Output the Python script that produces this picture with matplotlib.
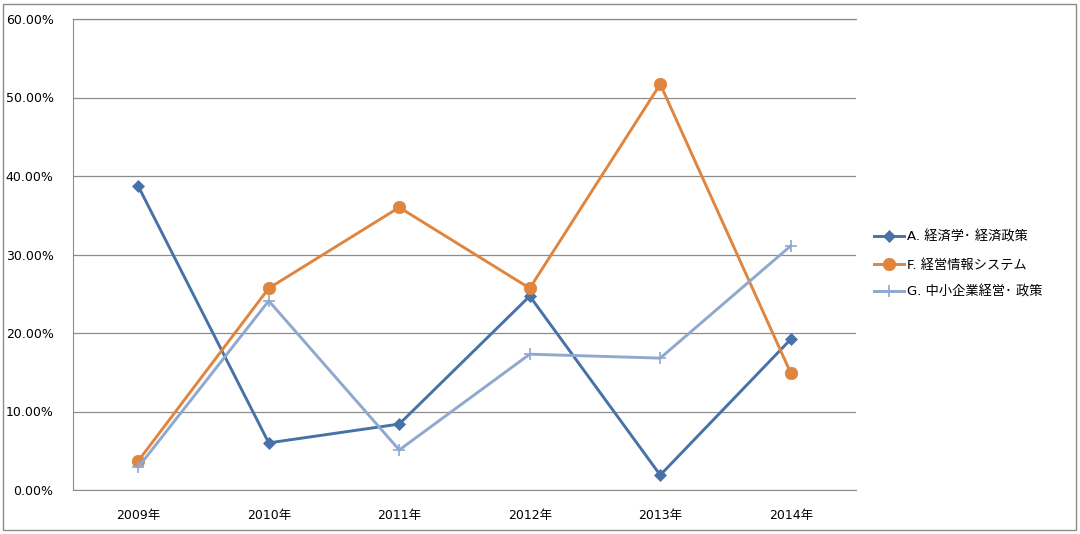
import matplotlib
matplotlib.use("Agg")
import matplotlib.pyplot as plt
from matplotlib.patches import Rectangle
from matplotlib.ticker import FuncFormatter

plt.rcParams['font.family'] = ['DejaVu Sans', 'Noto Sans CJK JP']

years = ["2009年", "2010年", "2011年", "2012年", "2013年", "2014年"]
series_names = ["A. 経済学･ 経済政策", "F. 経営情報システム", "G. 中小企業経営･ 政策"]
a_vals = [0.387, 0.060, 0.084, 0.247, 0.019, 0.192]
f_vals = [0.037, 0.257, 0.360, 0.257, 0.517, 0.149]
g_vals = [0.029, 0.241, 0.051, 0.173, 0.168, 0.311]

colors = ["#4672A8", "#E0853E", "#8FA8CF"]
markers = ["D", "o", "+"]
msizes = [6, 9, 9]

fig = plt.figure(figsize=(10.8, 5.34), dpi=100)
ax = fig.add_axes([73/1080, 1-490/534, (856-73)/1080, (490-19)/534])

x = list(range(len(years)))
for vals, name, c, m, ms in zip([a_vals, f_vals, g_vals], series_names, colors, markers, msizes):
    ax.plot(x, vals, color=c, lw=2.1, marker=m, markersize=ms, label=name,
            markeredgewidth=1.2 if m == "+" else 0.5, markeredgecolor=c)

ax.set_xlim(-0.5, len(years) - 0.5)
ax.set_ylim(0, 0.6)
ax.set_yticks([0, 0.1, 0.2, 0.3, 0.4, 0.5, 0.6])
ax.yaxis.set_major_formatter(FuncFormatter(lambda v, p: f"{v*100:.2f}%"))
ax.set_xticks(x)
ax.set_xticklabels(years, family=['DejaVu Sans', 'Noto Sans CJK JP'])
ax.tick_params(axis='both', length=0, labelsize=9, colors="#000000")
ax.tick_params(axis='x', pad=14)
ax.tick_params(axis='y', pad=14)
ax.grid(axis='y', color="#8C8C8C", lw=0.9)
ax.set_axisbelow(True)
ax.spines["right"].set_visible(False)
for s in ["left", "bottom", "top"]:
    ax.spines[s].set_color("#8C8C8C")
ax.spines["top"].set_linewidth(0.9)

leg = fig.legend(loc="center left", bbox_to_anchor=(862/1080, 1-265/534), frameon=False,
                 prop={'family': ['DejaVu Sans', 'Noto Sans CJK JP'], 'size': 9.5},
                 handlelength=2.3, labelspacing=1.1, handletextpad=0.2)

fig.patches.append(Rectangle((3/1080, 4/534), 1073/1080, 526/534, transform=fig.transFigure,
                             fill=False, edgecolor="#8C8C8C", lw=1))
fig.savefig("out.png", dpi=100)
